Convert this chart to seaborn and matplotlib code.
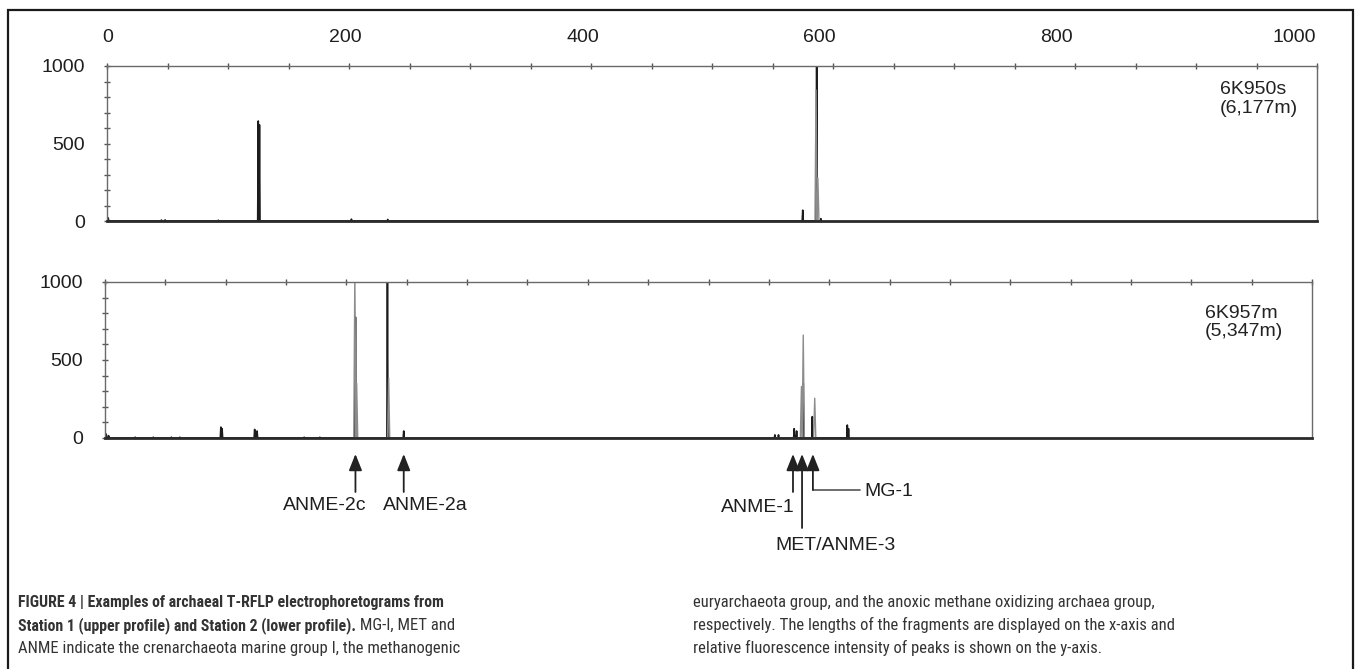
import os
import numpy as np
import pandas as pd
import matplotlib
matplotlib.use("Agg")
import matplotlib.pyplot as plt
import seaborn as sns
from matplotlib import font_manager as fm
from matplotlib.patches import Rectangle

# ---------------- data ----------------
top_axis_ticks = [0, 200, 400, 600, 800, 1000]
y_ticks = [0, 500, 1000]

# Station 1 (upper profile) peaks: fragment length (bp) and intensity
s1_dark_pos = [1, 45, 48, 92, 125, 126, 202, 232, 575, 586.5, 590]
s1_dark_h = [20, 6, 7, 5, 645, 620, 12, 10, 70, 1050, 15]
s1_gray_pos = [586, 587.5]
s1_gray_h = [845, 277]

# Station 2 (lower profile) peaks
s2_dark_pos = [1, 3, 25, 40, 55, 62, 96, 97, 124, 126, 165, 178, 207.5, 234,
               247.5, 555, 558, 571, 573, 578.5, 586, 615, 616]
s2_dark_h = [25, 15, 5, 5, 5, 5, 70, 60, 55, 45, 5, 5, 775, 1050,
             45, 20, 20, 60, 45, 350, 137, 83, 60]
s2_gray_pos = [207, 208.5, 235, 577, 578.5, 588]
s2_gray_h = [1050, 350, 385, 330, 660, 255]

panel_labels = ["6K950s\n(6,177m)", "6K957m\n(5,347m)"]

# annotations on lower profile: label, peak position
arrow_labels = ["ANME-2c", "ANME-2a", "ANME-1", "MET/ANME-3", "MG-1"]
arrow_pos = [207.5, 247.5, 570, 577.5, 586.5]

caption_bold_1 = "FIGURE 4 | Examples of archaeal T-RFLP electrophoretograms from"
caption_bold_2 = "Station 1 (upper profile) and Station 2 (lower profile)."
caption_reg_2 = " MG-I, MET and"
caption_reg_3 = "ANME indicate the crenarchaeota marine group I, the methanogenic"
caption_col2 = ["euryarchaeota group, and the anoxic methane oxidizing archaea group,",
                "respectively. The lengths of the fragments are displayed on the x-axis and",
                "relative fluorescence intensity of peaks is shown on the y-axis."]

# ---------------- style ----------------
sns.set_theme(style="white")
plt.rcParams['font.family'] = ['Liberation Sans', 'DejaVu Sans']

byname = {os.path.basename(f.fname).lower(): f.fname for f in fm.fontManager.ttflist}


def pick(prefs, bold):
    for p in prefs:
        if p.lower() in byname:
            return byname[p.lower()]
    bad = ["semi", "extra", "ultra", "italic", "oblique", "light", "medium", "black",
           "thin", "mono", "serif"]
    for b, path in sorted(byname.items()):
        if ("narrow" in b or "condensed" in b) and not any(x in b for x in bad):
            if ("bold" in b) == bold:
                return path
    return None


reg_path = pick(["LiberationSansNarrow-Regular.ttf", "RobotoCondensed-Regular.ttf",
                 "NotoSans-Condensed.ttf", "DejaVuSansCondensed.ttf",
                 "OpenSans-CondRegular.ttf"], False)
bold_path = pick(["LiberationSansNarrow-Bold.ttf", "RobotoCondensed-Bold.ttf",
                  "NotoSans-CondensedBold.ttf", "DejaVuSansCondensed-Bold.ttf",
                  "OpenSans-CondBold.ttf"], True)


def cap_prop(bold):
    path = bold_path if bold else reg_path
    if path:
        return fm.FontProperties(fname=path, size=12)
    return fm.FontProperties(family="Liberation Sans", weight="bold" if bold else "normal",
                             size=12)


W, H = 1355, 669
fig = plt.figure(figsize=(W / 100, H / 100), dpi=100)
fig.patch.set_facecolor("white")
LS = 14  # label size


def px_axes(l, t, r, b):
    return fig.add_axes([l / W, 1 - b / H, (r - l) / W, (b - t) / H])


def trace_frame(pos, h, half):
    xs, ys = [], []
    for p, v in zip(pos, h):
        xs += [p - half, p, p + half]
        ys += [0, v, 0]
    return pd.DataFrame({"x": xs, "y": ys})


def style_panel(ax):
    ax.set_xlim(0, 1000)
    ax.set_ylim(0, 1000)
    ax.set_facecolor("white")
    ax.set_xlabel("")
    ax.set_ylabel("")
    for s in ["top", "left", "right"]:
        ax.spines[s].set_color("#6a6a6a")
        ax.spines[s].set_linewidth(1.0)
        ax.spines[s].set_visible(True)
    ax.spines["bottom"].set_color("#2a2a2a")
    ax.spines["bottom"].set_linewidth(2.0)
    ax.spines["bottom"].set_visible(True)
    ax.xaxis.set_ticks_position("top")
    ax.set_xticks(np.arange(0, 1001, 50))
    ax.tick_params(axis="x", which="both", top=True, bottom=False, labeltop=False,
                   labelbottom=False, direction="inout", length=5, width=1,
                   color="#555555")
    ax.set_yticks(y_ticks)
    ax.set_yticks(np.arange(0, 1001, 100), minor=True)
    ax.tick_params(axis="y", which="both", left=True, direction="inout", length=5,
                   width=1, color="#555555", labelsize=LS, labelcolor="#1e1e1e", pad=13.5)


def draw_panel(ax, dpos, dh, gpos, gh):
    sns.lineplot(data=trace_frame(dpos, dh, 0.45), x="x", y="y", sort=False,
                 estimator=None, color="#1c1c1c", lw=1.2, ax=ax)
    sns.lineplot(data=trace_frame(gpos, gh, 0.9), x="x", y="y", sort=False,
                 estimator=None, color="#8c8c8c", lw=1.0, ax=ax)
    style_panel(ax)


ax1 = px_axes(107, 66, 1317, 221)
draw_panel(ax1, s1_dark_pos, s1_dark_h, s1_gray_pos, s1_gray_h)
ax2 = px_axes(105, 282, 1312, 438)
draw_panel(ax2, s2_dark_pos, s2_dark_h, s2_gray_pos, s2_gray_h)

ax1.text(920, (221 - 99) / 155, panel_labels[0], transform=ax1.get_xaxis_transform(),
         fontsize=LS, color="#222222", va="center", ha="left", linespacing=1.13)
ax2.text(911, (438 - 322.5) / 156, panel_labels[1], transform=ax2.get_xaxis_transform(),
         fontsize=LS, color="#222222", va="center", ha="left", linespacing=1.13)

# top scale labels
axt = px_axes(108, 50, 1294, 51)
axt.set_xlim(0, 1000)
axt.set_xticks(top_axis_ticks)
axt.set_xticklabels([str(t) for t in top_axis_ticks])
axt.xaxis.set_ticks_position("top")
axt.tick_params(axis="x", top=True, bottom=False, labeltop=True, labelbottom=False,
                length=0, pad=3, labelsize=LS, labelcolor="#1e1e1e")
axt.set_yticks([])
for s in axt.spines.values():
    s.set_visible(False)
axt.patch.set_alpha(0)

# arrows on lower profile
tr = ax2.get_xaxis_transform()


def frac(y):
    return (438 - y) / 156


arrow_kw = dict(arrowstyle="-|>,head_length=0.5,head_width=0.2", mutation_scale=20,
                color="#222222", lw=1.3, shrinkA=0, shrinkB=0)
shaft_bottom = [492, 492, 492, 528, 490]
for lab, p, sb in zip(arrow_labels, arrow_pos, shaft_bottom):
    ax2.annotate("", xy=(p, frac(454)), xycoords=tr, xytext=(p, frac(sb)),
                 textcoords=tr, arrowprops=arrow_kw, annotation_clip=False)

txt_kw = dict(transform=tr, fontsize=LS, color="#1e1e1e", clip_on=False)
ax2.text(arrow_pos[0] - 25.5, frac(505), arrow_labels[0], ha="center", va="center", **txt_kw)
ax2.text(arrow_pos[1] + 17.5, frac(505), arrow_labels[1], ha="center", va="center", **txt_kw)
ax2.text(arrow_pos[2] - 29, frac(507), arrow_labels[2], ha="center", va="center", **txt_kw)
ax2.text(arrow_pos[3] + 28, frac(546), arrow_labels[3], ha="center", va="center", **txt_kw)
ax2.plot([arrow_pos[4], arrow_pos[4] + 39], [frac(490), frac(490)], transform=tr,
         color="#555555", lw=1.2, clip_on=False)
ax2.text(arrow_pos[4] + 43, frac(491), arrow_labels[4], ha="left", va="center", **txt_kw)

# outer border
fig.add_artist(Rectangle((8 / W, -0.05), (1353 - 8) / W, 1.05 - 10 / H,
                         transform=fig.transFigure, fill=False, lw=1.6,
                         edgecolor="#1a1a1a", clip_on=False))

# caption
cap_color = "#333333"
renderer = fig.canvas.get_renderer()


def fit(t, target):
    w = t.get_window_extent(renderer).width
    t.set_fontsize(t.get_fontsize() * target / w)
    return t.get_fontsize()


t1 = fig.text(18 / W, 1 - 607 / H, caption_bold_1, fontproperties=cap_prop(True),
              color=cap_color, va="baseline", ha="left")
bsize = fit(t1, 428)
c2 = []
for i, line in enumerate(caption_col2):
    c2.append(fig.text(693 / W, 1 - (607 + 23 * i) / H, line, fontproperties=cap_prop(False),
                       color=cap_color, va="baseline", ha="left"))
rsize = fit(c2[0], 462)
for t in c2[1:]:
    t.set_fontsize(rsize)

bp = cap_prop(True)
bp.set_size(bsize)
rp = cap_prop(False)
rp.set_size(rsize)
t2 = fig.text(18 / W, 1 - 630 / H, caption_bold_2, fontproperties=bp,
              color=cap_color, va="baseline", ha="left")
fig.add_artist(plt.Annotation(caption_reg_2, xy=(1, 1 - 630 / H),
                              xycoords=(t2, "figure fraction"), fontproperties=rp,
                              color=cap_color, va="baseline", ha="left"))
fig.text(18 / W, 1 - 653 / H, caption_reg_3, fontproperties=rp,
         color=cap_color, va="baseline", ha="left")

fig.savefig("out.png", dpi=100, facecolor="white")
